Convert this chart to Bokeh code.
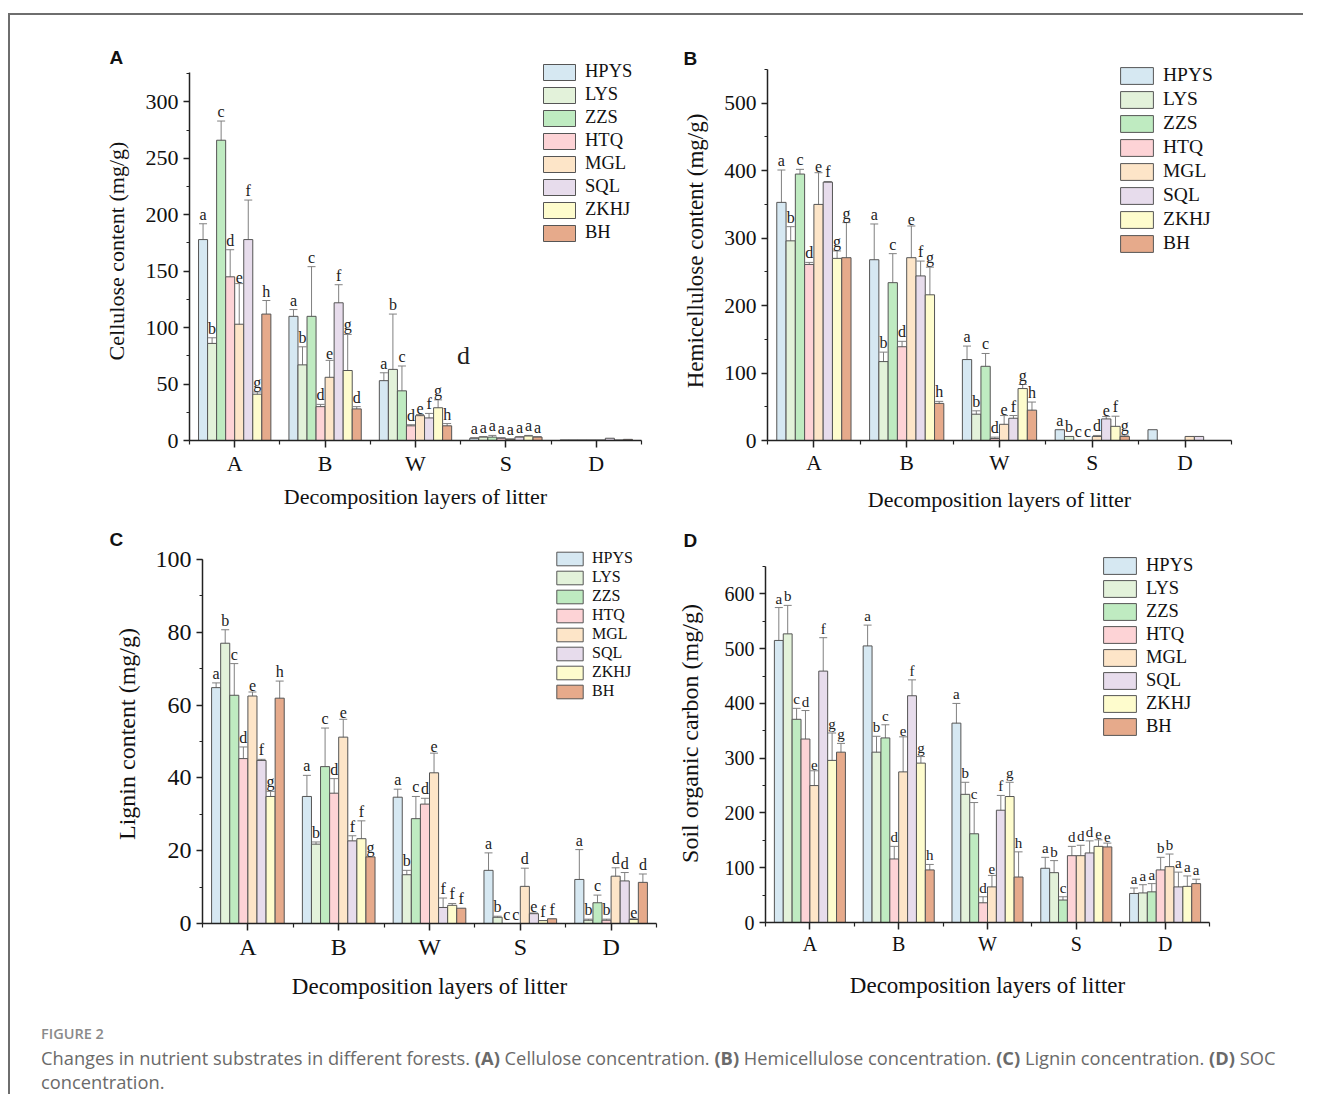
import numpy as np
from bokeh.plotting import figure
from bokeh.models import (ColumnDataSource, Whisker, TeeHead, Legend, LegendItem,
                          FixedTicker, SingleIntervalTicker, Range1d, Div, Label)
from bokeh.layouts import column, row
from bokeh.embed import file_html
from bokeh.resources import INLINE
from bokeh.core.properties import value

# ---------------- data ----------------
categories = ["A", "B", "W", "S", "D"]
series = ["HPYS", "LYS", "ZZS", "HTQ", "MGL", "SQL", "ZKHJ", "BH"]

# rows = categories (A, B, W, S, D); columns = series
cellulose_mean = [
    [178, 86, 266, 145, 103, 178, 41, 112],
    [110, 67, 110, 30, 56, 122, 62, 28],
    [53, 63, 44, 13, 22, 20, 29, 13],
    [2, 3, 3, 2, 1, 3, 4, 3],
    [0.5, 0.5, 0.5, 0.5, 0.5, 2, 0.5, 1],
]
cellulose_err = [
    [14, 5, 17, 24, 36, 35, 2, 12],
    [6, 16, 44, 2, 15, 16, 32, 2],
    [7, 49, 22, 1, 1, 4, 7, 2],
    [0.5, 0.5, 1.5, 0.5, 0.5, 0.5, 0.5, 0.5],
    [0, 0, 0, 0, 0, 0, 0, 0],
]
cellulose_letters = [
    list("abcdefgh"), list("abcdefgd"), list("abcdefgh"), list("aaaaaaaa"), [""] * 8,
]
cellulose_extra = ("d", 3.03, 75)

hemicellulose_mean = [
    [353, 296, 395, 261, 350, 383, 270, 271],
    [268, 117, 234, 139, 271, 244, 216, 55],
    [120, 39, 110, 3, 24, 33, 77, 45],
    [16, 6, 0, 0, 6, 32, 21, 6],
    [16, 0, 0, 0, 6, 6, 0, 0],
]
hemicellulose_err = [
    [48, 21, 7, 3, 47, 1, 11, 52],
    [53, 14, 43, 8, 47, 22, 41, 3],
    [20, 5, 19, 2, 13, 4, 6, 12],
    [0, 0, 0, 0, 1.5, 3.5, 15, 2],
    [0, 0, 0, 0, 0, 0, 0, 0],
]
hemicellulose_letters = [
    list("abcdefgg"), list("abcdefgh"), list("abcdefgh"), list("abccdefg"), [""] * 8,
]

lignin_mean = [
    [64.8, 77.0, 62.7, 45.3, 62.5, 44.8, 34.9, 61.9],
    [34.9, 21.8, 43.1, 35.8, 51.2, 22.7, 23.3, 18.3],
    [34.7, 13.4, 28.8, 32.8, 41.4, 4.4, 5.0, 4.2],
    [14.6, 1.7, 0, 0, 10.2, 2.7, 0.8, 1.3],
    [12.1, 0.9, 5.7, 0.9, 13.0, 11.7, 1.1, 11.3],
]
lignin_err = [
    [1.3, 3.7, 8.7, 3.2, 1.1, 0.3, 1.4, 4.7],
    [5.8, 0.6, 10.6, 4.0, 4.9, 1.4, 4.9, 0],
    [2.2, 1.2, 6.1, 1.6, 5.4, 2.6, 0.5, 0],
    [4.8, 0.3, 0, 0, 5.0, 0.2, 0, 0],
    [8.2, 0.3, 2.1, 0.3, 2.3, 2.3, 0.2, 2.3],
]
lignin_letters = [
    list("abcdefgh"), list("abcdeffg"), list("abcdefff"), list("abccdeff"), list("abcbdded"),
]

soc_mean = [
    [515, 527, 371, 335, 250, 459, 296, 311],
    [505, 311, 337, 116, 275, 414, 291, 96],
    [364, 234, 162, 36, 65, 205, 230, 83],
    [99, 91, 41, 122, 122, 127, 139, 138],
    [53, 54, 56, 96, 102, 65, 66, 71],
]
soc_err = [
    [60, 52, 20, 52, 27, 61, 50, 16],
    [38, 29, 24, 23, 64, 29, 12, 10],
    [36, 22, 57, 11, 21, 27, 26, 46],
    [20, 22, 6, 17, 19, 22, 12, 7],
    [10, 15, 15, 23, 23, 27, 19, 8],
]
soc_letters = [
    list("abcdefgg"), list("abcdefgh"), list("abcdefgh"), list("abcdddee"), list("aaabbaaa"),
]

y_titles = ["Cellulose content (mg/g)", "Hemicellulose content (mg/g)",
            "Lignin content (mg/g)", "Soil organic carbon (mg/g)"]
y_max = [326, 550, 100, 650]
x_title = "Decomposition layers of litter"
panel_letters = ["A", "B", "C", "D"]

# ---------------- styles ----------------
colors = ["#D6E8F2", "#E3F2DA", "#BFEBC1", "#FDD3D6", "#FDE5C8", "#E7DCEC", "#FEFCCD", "#E6AA8B"]
SERIF = "Liberation Serif"
BAR_W = 0.1

# fh = pixel height of the axis span, ext = extra frame pixels above it (room for legend)
# frames within a row are top-aligned by the layout, so bt is equal within each row
configs = [
    dict(interval=50, fw=452, fh=368, ext=11, bl=179, br=24, bt=46, bb=79, tick=22, xt=22, yt=22,
         ysd=14, xsd=5, gw=40, gh=20, sp=2, lf="18.5px", lx=350, ly=197, toff=-80, tsd=-13, lt=16),
    dict(interval=100, fw=464, fh=371, ext=8, bl=102, br=30, bt=46, bb=79, tick=21.5, xt=22, yt=23,
         ysd=13, xsd=9, gw=41, gh=21, sp=2, lf="19.5px", lx=349, ly=186, toff=-84, tsd=-14, lt=16),
    dict(interval=20, fw=454, fh=364, ext=15, bl=192, br=9, bt=25, bb=101, tick=24, xt=23, yt=24,
         ysd=13, xsd=11, gw=33, gh=17, sp=1, lf="16px", lx=351, ly=223, toff=-93, tsd=-10, lt=16),
    dict(interval=100, fw=444, fh=356, ext=22, bl=100, br=50, bt=25, bb=102, tick=20, xt=23, yt=24,
         ysd=19, xsd=15, gw=41, gh=21, sp=2, lf="18.5px", lx=334, ly=185, toff=-82, tsd=-13, lt=15),
]


def make_panel(idx, means, errs, letters, extra=None):
    c = configs[idx]
    means = np.array(means, dtype=float)
    errs = np.array(errs, dtype=float)
    ncat = len(categories)
    ymax = y_max[idx]
    y_end = ymax * (c["fh"] + c["ext"]) / c["fh"]
    p = figure(output_backend="svg", toolbar_location=None,
               x_range=Range1d(0, ncat), y_range=Range1d(0, y_end),
               frame_width=c["fw"], frame_height=c["fh"] + c["ext"],
               min_border_left=c["bl"], min_border_right=c["br"],
               min_border_top=c["bt"], min_border_bottom=c["bb"],
               outline_line_color=None, background_fill_color="white",
               border_fill_color="white")
    p.grid.visible = False

    cat_pos = np.arange(ncat) + 0.5
    items = []
    wx, wu, wl, tx, ty, tt = [], [], [], [], [], []
    for j, s in enumerate(series):
        xs = cat_pos + (j - (len(series) - 1) / 2) * BAR_W
        src = ColumnDataSource(dict(x=xs, top=means[:, j]))
        r = p.vbar(x="x", top="top", width=BAR_W, source=src,
                   fill_color=colors[j], line_color="#555555", line_width=1)
        items.append(LegendItem(label=s, renderers=[r]))
        for i in range(ncat):
            if errs[i, j] > 0:
                wx.append(xs[i])
                wu.append(means[i, j] + errs[i, j])
                wl.append(max(0.0, means[i, j] - errs[i, j]))
            if letters[i][j]:
                tx.append(xs[i])
                ty.append(means[i, j] + errs[i, j])
                tt.append(letters[i][j])

    wsrc = ColumnDataSource(dict(base=wx, upper=wu, lower=wl))
    w = Whisker(base="base", upper="upper", lower="lower", source=wsrc, dimension="height",
                line_color="#808080", line_width=1,
                upper_head=TeeHead(size=8, line_color="#808080", line_width=1),
                lower_head=TeeHead(size=8, line_color="#808080", line_width=1))
    p.add_layout(w)

    tsrc = ColumnDataSource(dict(x=tx, y=ty, t=tt))
    p.text(x="x", y="y", text="t", source=tsrc, text_align="center", text_baseline="bottom",
           y_offset=-1, text_font=value(SERIF), text_font_size=f"{c['lt']}px", text_color="#222222")

    if extra is not None:
        p.add_layout(Label(x=extra[1], y=extra[2], text=extra[0], text_font=SERIF,
                           text_font_size="26px", text_align="center", text_baseline="middle",
                           text_color="#222222"))

    # axes
    xa = p.xaxis[0]
    xa.ticker = FixedTicker(ticks=list(cat_pos), minor_ticks=list(range(ncat + 1)))
    xa.major_label_overrides = {float(v): cat for v, cat in zip(cat_pos, categories)}
    ya = p.yaxis[0]
    ya.ticker = SingleIntervalTicker(interval=c["interval"], num_minor_ticks=2)
    ya.bounds = (0, ymax)
    for ax in (xa, ya):
        ax.axis_line_color = "#222222"
        ax.axis_line_width = 1.5
        ax.major_tick_line_color = "#222222"
        ax.minor_tick_line_color = "#222222"
        ax.major_tick_line_width = 1.5
        ax.minor_tick_line_width = 1.2
        ax.major_tick_in = 0
        ax.minor_tick_in = 0
        ax.major_tick_out = 6
        ax.minor_tick_out = 3
        ax.major_label_text_font = SERIF
        ax.major_label_text_font_size = f"{c['tick']}px"
        ax.major_label_text_color = "#111111"
        ax.axis_label_text_font = SERIF
        ax.axis_label_text_font_style = "normal"
        ax.axis_label_text_color = "#111111"
    xa.major_tick_out = 7
    xa.minor_tick_out = 4
    xa.major_label_standoff = 3
    ya.major_label_standoff = 5
    xa.axis_label = x_title
    xa.axis_label_text_font_size = f"{c['xt']}px"
    xa.axis_label_standoff = c["xsd"]
    ya.axis_label = y_titles[idx]
    ya.axis_label_text_font_size = f"{c['yt']}px"
    ya.axis_label_standoff = c["ysd"]

    # panel letter
    p.title.text = panel_letters[idx]
    p.title.text_font = "Liberation Sans"
    p.title.text_font_style = "bold"
    p.title.text_font_size = "19px"
    p.title.text_color = "#111111"
    p.title.align = "left"
    p.title.offset = c["toff"]
    p.title.standoff = c["tsd"]

    legend = Legend(items=items, location=(c["lx"], c["ly"]), orientation="vertical",
                    glyph_width=c["gw"], glyph_height=c["gh"], label_height=c["gh"],
                    spacing=c["sp"], padding=0, margin=0, label_standoff=6,
                    label_text_font=SERIF, label_text_font_size=c["lf"],
                    label_text_color="#111111", border_line_alpha=0,
                    background_fill_alpha=0)
    p.add_layout(legend)
    return p


pA = make_panel(0, cellulose_mean, cellulose_err, cellulose_letters, cellulose_extra)
pB = make_panel(1, hemicellulose_mean, hemicellulose_err, hemicellulose_letters)
pC = make_panel(2, lignin_mean, lignin_err, lignin_letters)
pD = make_panel(3, soc_mean, soc_err, soc_letters)

caption_html = (
    '<div style="font-family:\'Open Sans\',sans-serif;color:#8a8a8a;font-size:14.5px;'
    'font-weight:600;line-height:20px;">FIGURE 2</div>'
    '<div style="font-family:\'Open Sans\',sans-serif;color:#6a6a6a;font-size:18.3px;'
    'line-height:24px;white-space:nowrap;padding-top:2px;">'
    'Changes in nutrient substrates in different forests. <b>(A)</b> Cellulose concentration. '
    '<b>(B)</b> Hemicellulose concentration. <b>(C)</b> Lignin concentration. <b>(D)</b> SOC<br>'
    'concentration.</div>'
)
caption = Div(text=caption_html, width=1262, height=70, margin=(0, 0, 0, 31))

layout = column(row(pA, pB), row(pC, pD), caption,
                margin=(13, 0, 0, 8),
                styles={"border-top": "2px solid #6e6e6e", "border-left": "2px solid #6e6e6e"})

with open("out.html", "w") as f:
    f.write(file_html(layout, INLINE))
